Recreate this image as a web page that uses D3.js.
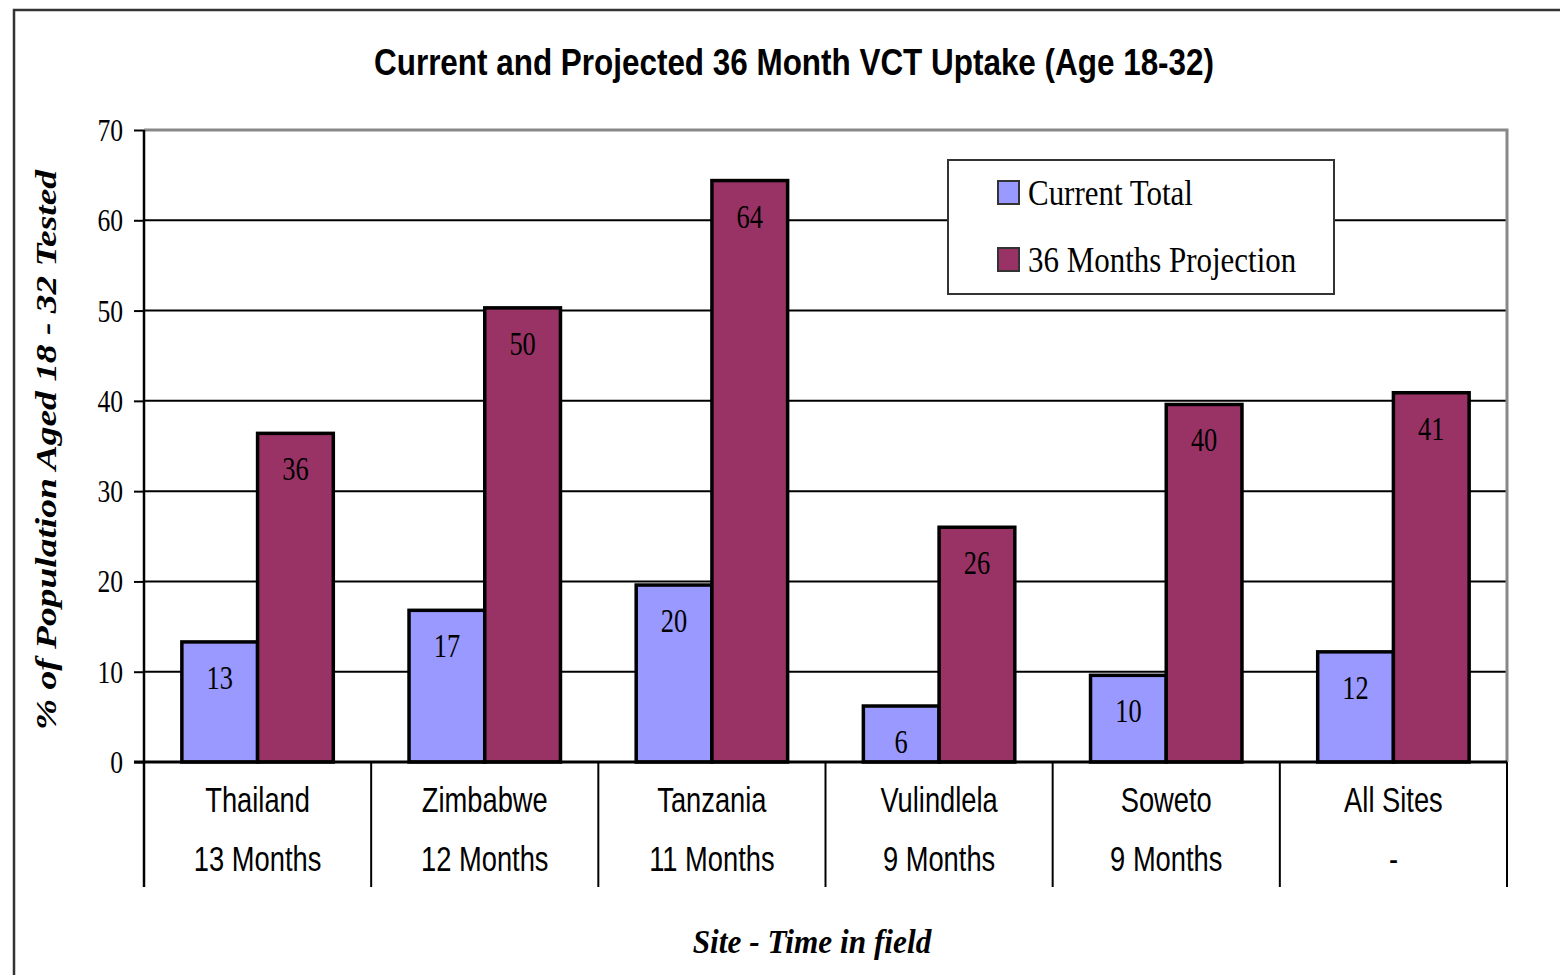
<!DOCTYPE html>
<html>
<head>
<meta charset="utf-8">
<script src="https://cdn.jsdelivr.net/npm/d3@7"></script>
<style>
html,body{margin:0;padding:0;background:#fff;}
svg{display:block;}
</style>
</head>
<body>
<svg id="chart" width="1560" height="975"></svg>
<script>
const sites = ["Thailand","Zimbabwe","Tanzania","Vulindlela","Soweto","All Sites"];
const fieldTimes = ["13 Months","12 Months","11 Months","9 Months","9 Months","-"];
const seriesNames = ["Current Total","36 Months Projection"];
const currentTotal = [13.3,16.8,19.6,6.2,9.6,12.2];
const projection36 = [36.4,50.3,64.4,26.0,39.6,40.9];
const yTicks = [0,10,20,30,40,50,60,70];
const colors = ["#9999FF","#993366"];
const titleText = "Current and Projected 36 Month VCT Uptake (Age 18-32)";
const yTitle = "% of Population Aged 18 - 32 Tested";
const xTitle = "Site - Time in field";

const svg = d3.select("#chart");
const SX = 0.8;
const serif = "'Liberation Serif','Times New Roman',serif";
const sans = "'Liberation Sans',Arial,sans-serif";

const L = 144, R = 1507, T = 130, B = 762, CATB = 887;

// outer frame
svg.append("path").attr("d", `M14,975 L14,10 L1560,10`).attr("fill","none").attr("stroke","#333").attr("stroke-width",2.5);

const x = d3.scaleBand().domain(sites).range([L,R]).paddingInner(0).paddingOuter(0);
const xs = d3.scaleBand().domain(seriesNames).range([0,x.bandwidth()]).paddingInner(0).paddingOuter(0.5);
const y = d3.scaleLinear().domain([0,70]).range([B,T]);

function stext(g, px, py, txt, opts){
  const gg = g.append("g").attr("transform", `translate(${px},${py}) scale(${opts.sx||SX},1)`);
  const t = gg.append("text").attr("x",0).attr("y",0)
    .attr("text-anchor", opts.anchor||"middle")
    .attr("font-family", opts.family||serif)
    .attr("font-size", opts.size)
    .attr("font-weight", opts.weight||"normal")
    .attr("font-style", opts.style||"normal")
    .attr("fill", "#000")
    .text(txt);
  return t;
}

// title
svg.append("text").attr("x",794).attr("y",75).attr("text-anchor","middle")
  .attr("font-family",sans).attr("font-weight","bold").attr("font-size",37)
  .attr("textLength",840).attr("lengthAdjust","spacingAndGlyphs").text(titleText);

// gridlines
svg.append("g").selectAll("line").data(yTicks.filter(d=>d>0 && d<70)).join("line")
  .attr("x1",L).attr("x2",R).attr("y1",d=>y(d)).attr("y2",d=>y(d))
  .attr("stroke","#000").attr("stroke-width",2);

// plot border top/right gray
svg.append("path").attr("d",`M${L},${y(70)} L${R},${y(70)} L${R},${B}`)
  .attr("fill","none").attr("stroke","#888").attr("stroke-width",3);

// y axis
const yAxis = d3.axisLeft(y).tickValues(yTicks).tickSize(10).tickFormat("");
const ya = svg.append("g").attr("transform",`translate(${L},0)`).call(yAxis);
ya.select(".domain").remove();
ya.selectAll(".tick line").attr("stroke","#000").attr("stroke-width",2);
svg.append("line").attr("x1",L).attr("x2",L).attr("y1",T).attr("y2",CATB).attr("stroke","#000").attr("stroke-width",2.5);
yTicks.forEach(v=>{
  stext(svg, 123, y(v)+11, String(v), {size:32, anchor:"end"});
});

// bars
const groups = svg.append("g").selectAll("g").data(sites).join("g")
  .attr("transform", d=>`translate(${x(d)},0)`);
const seriesData = [currentTotal, projection36];
groups.each(function(site,i){
  const g = d3.select(this);
  seriesNames.forEach((s,k)=>{
    const v = seriesData[k][i];
    g.append("rect").attr("x",xs(s)).attr("width",xs.bandwidth())
      .attr("y",y(v)).attr("height",B-y(v))
      .attr("fill",colors[k]).attr("stroke","#000").attr("stroke-width",3.5);
  });
  seriesNames.forEach((s,k)=>{
    const v = seriesData[k][i];
    stext(g, xs(s)+xs.bandwidth()/2, y(v)+47, String(Math.round(v)), {size:33});
  });
});

// x axis baseline
svg.append("line").attr("x1",L-10).attr("x2",R).attr("y1",B).attr("y2",B).attr("stroke","#000").attr("stroke-width",3);

// category separators
svg.append("g").selectAll("line").data(sites.slice(1).map(s=>x(s)).concat([R])).join("line")
  .attr("x1",d=>d).attr("x2",d=>d).attr("y1",B).attr("y2",CATB)
  .attr("stroke","#000").attr("stroke-width",2);

// category labels
sites.forEach((s,i)=>{
  const cx = x(s)+x.bandwidth()/2;
  stext(svg, cx, 812, s, {size:35, family:sans, sx:0.78});
  stext(svg, cx, 871, fieldTimes[i], {size:35, family:sans, sx:0.78});
});

// axis titles
svg.append("g").attr("transform","translate(56,450) rotate(-90) scale(1,0.97)")
  .append("text").attr("x",0).attr("y",0).attr("text-anchor","middle")
  .attr("font-family",serif).attr("font-style","italic").attr("font-weight","bold")
  .attr("font-size",30).attr("textLength",560).attr("lengthAdjust","spacingAndGlyphs")
  .text(yTitle);

stext(svg, 812, 953, xTitle, {size:34, style:"italic", weight:"bold", sx:0.92});

// legend
const lg = svg.append("g");
lg.append("rect").attr("x",948).attr("y",160).attr("width",386).attr("height",134)
  .attr("fill","#fff").attr("stroke","#333").attr("stroke-width",2);
seriesNames.forEach((s,k)=>{
  const yy = [192,259][k];
  lg.append("rect").attr("x",998).attr("y",yy-11).attr("width",21).attr("height",23)
    .attr("fill",colors[k]).attr("stroke","#333").attr("stroke-width",2);
  stext(lg, 1028, yy+13, s, {size:36, anchor:"start", sx:0.86});
});
</script>
</body>
</html>
